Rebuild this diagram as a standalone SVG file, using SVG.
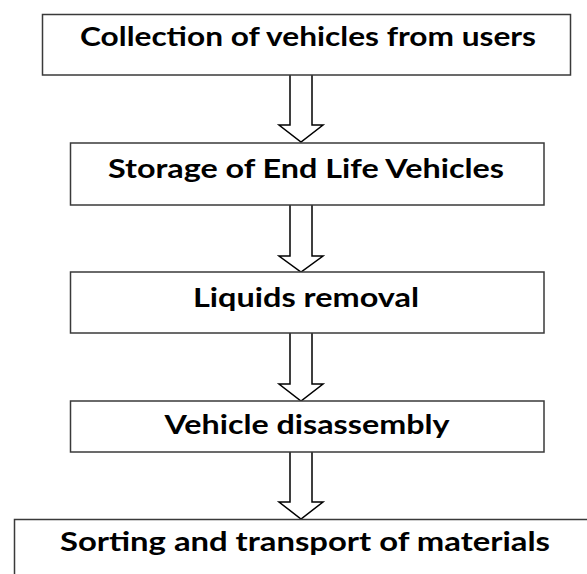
<svg xmlns="http://www.w3.org/2000/svg" width="587" height="574" viewBox="0 0 587 574">
<style>
.box{fill:#fff;stroke:#3a3a3a;stroke-width:1.5}
.lbl{font-family:Lato,"Open Sans","Liberation Sans",sans-serif;font-weight:700;font-size:26px;fill:#000;text-anchor:middle}
.arr{fill:#fff;stroke:#000;stroke-width:1.5;stroke-linejoin:miter}
</style>
<rect width="587" height="574" fill="#fff"/>
<g id="connectors">
<path class="arr" d="M290,75 V125 H279 L301,142 L323,125 H312 V75"/>
<path class="arr" d="M290,205 V256 H279 L301,272 L323,256 H312 V205"/>
<path class="arr" d="M290,333 V384 H279 L301,401 L323,384 H312 V333"/>
<path class="arr" d="M290,452 V502 H279 L301,519 L323,502 H312 V452"/>
</g>
<g id="node1">
<rect class="box" x="42.5" y="14.5" width="528" height="60.5"/>
<text class="lbl" x="308" y="45.5" textLength="456" lengthAdjust="spacingAndGlyphs">Collection of vehicles from users</text>
</g>
<g id="node2">
<rect class="box" x="70.5" y="143" width="473.5" height="62"/>
<text class="lbl" x="306" y="178" textLength="396" lengthAdjust="spacingAndGlyphs">Storage of End Life Vehicles</text>
</g>
<g id="node3">
<rect class="box" x="70.5" y="272" width="473.5" height="61"/>
<text class="lbl" x="306" y="306.5" textLength="226" lengthAdjust="spacingAndGlyphs">Liquids removal</text>
</g>
<g id="node4">
<rect class="box" x="70.5" y="401" width="473.5" height="51"/>
<text class="lbl" x="307" y="434" textLength="285" lengthAdjust="spacingAndGlyphs">Vehicle disassembly</text>
</g>
<g id="node5">
<rect class="box" x="14.5" y="519.5" width="580" height="62"/>
<text class="lbl" x="305" y="551" textLength="490" lengthAdjust="spacingAndGlyphs">Sorting and transport of materials</text>
</g>
</svg>
